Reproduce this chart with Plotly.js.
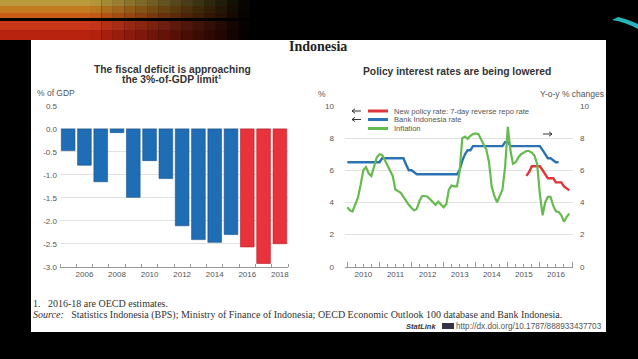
<!DOCTYPE html>
<html><head><meta charset="utf-8">
<script src="https://cdn.plot.ly/plotly-3.0.1.min.js"></script>
<style>html,body{margin:0;padding:0;background:#000;overflow:hidden}#chart{width:638px;height:359px}</style>
</head><body><div id="chart"></div>
<script>
// ---------- Left panel: fiscal balance, % of GDP ----------
const deficitYears = [2005,2006,2007,2008,2009,2010,2011,2012,2013,2014,2015,2016,2017,2018];
const deficitValues = [-0.47,-0.79,-1.15,-0.08,-1.49,-0.69,-1.08,-2.11,-2.41,-2.47,-2.30,-2.57,-2.93,-2.50];
const deficitEstimate = [false,false,false,false,false,false,false,false,false,false,false,true,true,true];
const deficitTickVals = [2006,2008,2010,2012,2014,2016,2018];
const deficitYTickVals = [0.5,0,-0.5,-1,-1.5,-2,-2.5,-3];
const deficitYTickText = ['0.5','0.0','-0.5','-1.0','-1.5','-2.0','-2.5','-3.0'];

// ---------- Right panel: policy rates and inflation (monthly) ----------
const months = [
 '2010-01-01','2010-02-01','2010-03-01','2010-04-01','2010-05-01','2010-06-01','2010-07-01','2010-08-01','2010-09-01','2010-10-01','2010-11-01','2010-12-01',
 '2011-01-01','2011-02-01','2011-03-01','2011-04-01','2011-05-01','2011-06-01','2011-07-01','2011-08-01','2011-09-01','2011-10-01','2011-11-01','2011-12-01',
 '2012-01-01','2012-02-01','2012-03-01','2012-04-01','2012-05-01','2012-06-01','2012-07-01','2012-08-01','2012-09-01','2012-10-01','2012-11-01','2012-12-01',
 '2013-01-01','2013-02-01','2013-03-01','2013-04-01','2013-05-01','2013-06-01','2013-07-01','2013-08-01','2013-09-01','2013-10-01','2013-11-01','2013-12-01',
 '2014-01-01','2014-02-01','2014-03-01','2014-04-01','2014-05-01','2014-06-01','2014-07-01','2014-08-01','2014-09-01','2014-10-01','2014-11-01','2014-12-01',
 '2015-01-01','2015-02-01','2015-03-01','2015-04-01','2015-05-01','2015-06-01','2015-07-01','2015-08-01','2015-09-01','2015-10-01','2015-11-01','2015-12-01',
 '2016-01-01','2016-02-01','2016-03-01','2016-04-01','2016-05-01','2016-06-01','2016-07-01','2016-08-01','2016-09-01','2016-10-01','2016-11-01','2016-12-01'
];
const inflation = [
 3.7,3.5,3.45,3.85,4.3,5.1,6.0,6.2,5.8,5.65,6.2,6.8,
 7.0,6.95,6.65,6.3,6.0,5.65,4.8,4.7,4.6,4.35,4.05,3.85,
 3.65,3.5,3.6,4.1,4.4,4.4,4.35,4.2,4.05,3.85,4.05,3.85,
 3.7,3.9,4.8,5.05,5.0,5.0,5.9,8.0,8.1,7.95,8.15,8.25,
 8.3,8.25,7.9,7.6,7.3,6.5,5.0,4.4,4.0,4.4,4.8,6.2,
 8.7,7.2,6.4,6.5,6.8,7.0,7.1,7.2,7.2,7.1,6.9,6.4,
 4.5,3.2,4.0,4.35,4.35,3.8,3.45,3.4,3.2,2.8,3.1,3.3
];
const biRateMonths = months.slice(0, 80);
const biRate = [
 6.5,6.5,6.5,6.5,6.5,6.5,6.5,6.5,6.5,6.5,6.5,6.5,6.5,
 6.75,6.75,6.75,6.75,6.75,6.75,6.75,6.75,6.75,
 6.35,6.0,6.0,5.85,
 5.75,5.75,5.75,5.75,5.75,5.75,5.75,5.75,5.75,5.75,5.75,5.75,5.75,5.75,5.75,5.75,
 6.0,6.6,7.0,7.25,7.25,
 7.5,7.5,7.5,7.5,7.5,7.5,7.5,7.5,7.5,7.5,7.5,7.5,
 7.75,7.75,
 7.5,7.5,7.5,7.5,7.5,7.5,7.5,7.5,7.5,7.5,7.5,7.5,
 7.25,7.0,6.75,6.75,6.6,6.5,6.5
];
const repoMonths = months.slice(67);
const repoRate = [5.65,5.9,6.25,6.25,6.25,6.25,6.0,5.75,5.5,5.5,5.5,5.25,5.25,5.25,5.0,4.9,4.75];
const rateYTickVals = [0,2,4,6,8,10];
const legendNames = ['New policy rate: 7-day reverse repo rate','Bank Indonesia rate','Inflation'];

// ---------- colours / helpers ----------
const BLUE = '#1f6db5', RED = '#e8323c';
const C_RED = '#e0353d', C_BLUE = '#2a72b3', C_GREEN = '#66bb4f';
const W = 638, H = 359;
const px = x => x / W, py = y => 1 - y / H;
const SANS = 'Liberation Sans, Arial, sans-serif';
const SERIF = 'Liberation Serif, Times New Roman, serif';

const traces = [
  {type:'bar', x: deficitYears, y: deficitValues, width: 0.84,
   marker:{color: deficitEstimate.map(e => e ? RED : BLUE),
           line:{color: deficitEstimate.map(e => e ? '#b52029' : '#15528c'), width:0.6}},
   xaxis:'x', yaxis:'y', hoverinfo:'skip'},
  {type:'scatter', mode:'lines', x: biRateMonths, y: biRate, name: legendNames[1],
   line:{color:C_BLUE, width:2.4}, xaxis:'x2', yaxis:'y2'},
  {type:'scatter', mode:'lines', x: months, y: inflation, name: legendNames[2],
   line:{color:C_GREEN, width:2.2}, xaxis:'x2', yaxis:'y3'},
  {type:'scatter', mode:'lines', x: repoMonths, y: repoRate, name: legendNames[0],
   line:{color:C_RED, width:2.4}, xaxis:'x2', yaxis:'y2'}
];

const gridC = '#e2e2e2', tickC = '#555';
const layout = {
  width: W, height: H, margin:{l:0,r:0,t:0,b:0},
  paper_bgcolor:'#000', plot_bgcolor:'rgba(0,0,0,0)', showlegend:false,
  font:{family:SANS, color:tickC, size:8},
  xaxis:{domain:[px(60),px(288)], range:[2004.5,2018.5], tickmode:'array', tickvals:deficitTickVals,
         ticks:'', showgrid:false, zeroline:false, showline:true, linecolor:'#999', linewidth:1,
         tickfont:{size:8,color:tickC}, fixedrange:true,
         minor:{tickmode:'linear', tick0:2004.5, dtick:1, ticks:'inside', ticklen:3, tickcolor:'#999', showgrid:false}},
  yaxis:{domain:[py(266.7),py(106)], range:[-3,0.5], tickmode:'array', tickvals:deficitYTickVals, ticktext:deficitYTickText,
         ticks:'', showgrid:true, gridcolor:gridC, zeroline:false, tickfont:{size:8,color:tickC}, ticklabelstandoff:2},
  xaxis2:{domain:[px(345),px(573)], anchor:'y2', type:'date', range:['2009-12-05','2017-01-12'],
          tick0:'2010-01-01', dtick:'M12', tickformat:'%Y', ticklabelmode:'period',
          ticks:'inside', ticklen:5, tickcolor:'#999', showgrid:false, zeroline:false,
          showline:true, linecolor:'#999', linewidth:1, tickfont:{size:8,color:tickC},
          minor:{dtick:'M3', ticks:'inside', ticklen:3, tickcolor:'#999', showgrid:false}},
  yaxis2:{domain:[py(266.7),py(106)], anchor:'x2', range:[0,10], tickmode:'array', tickvals:rateYTickVals,
          ticks:'', showgrid:true, gridcolor:gridC, zeroline:false, tickfont:{size:8,color:tickC}, ticklabelstandoff:10},
  yaxis3:{overlaying:'y2', anchor:'x2', side:'right', range:[0,10], tickmode:'array', tickvals:rateYTickVals,
          ticks:'', showgrid:false, zeroline:false, tickfont:{size:8,color:tickC}, ticklabelstandoff:6},
  shapes:[], annotations:[]
};

// slide decoration + white panel
const S = layout.shapes, A = layout.annotations;
const band = (y0,y1,color) => {
  const steps = 14, x0 = 90, x1 = 250;
  S.push({type:'rect', xref:'paper', yref:'paper', layer:'below',
    x0:0, x1:px(x0), y0:py(y1), y1:py(y0), fillcolor:color, opacity:1, line:{width:0}});
  for (let k = 0; k < steps; k++) {
    const a = px(x0 + (x1 - x0) * k / steps), b = px(x0 + (x1 - x0) * (k + 1) / steps);
    S.push({type:'rect', xref:'paper', yref:'paper', layer:'below',
      x0:a, x1:b, y0:py(y1), y1:py(y0), fillcolor:color, opacity:1 - (k + 0.5) / steps, line:{width:0}});
  }
};
band(0,6,'#b99a3c'); band(6,13,'#c27b20'); band(13,18,'#c85b16'); band(21,30,'#c9371b'); band(30,40,'#b8230f');
S.push({type:'path', xref:'paper', yref:'paper', layer:'below',
  path:`M ${px(612)} ${py(20)} Q ${px(625)} ${py(22)} ${px(638)} ${py(29)} L ${px(638)} ${py(24)} Q ${px(627)} ${py(19)} ${px(618)} ${py(17)} Z`,
  fillcolor:'#27b3b8', line:{width:0}});
S.push({type:'rect', xref:'paper', yref:'paper', layer:'below',
  x0:px(31), x1:px(606), y0:py(332), y1:py(40), fillcolor:'#ffffff', line:{width:0}});

// small arrows (drawn as shapes) pointing to the axis each series uses
const arrow = (xTail, xHead, y) => {
  const d = xHead < xTail ? 1 : -1;
  S.push({type:'path', xref:'paper', yref:'paper', line:{color:'#333', width:1},
    path:`M ${px(xTail)} ${py(y)} L ${px(xHead)} ${py(y)} M ${px(xHead + 3*d)} ${py(y-2.2)} L ${px(xHead)} ${py(y)} L ${px(xHead + 3*d)} ${py(y+2.2)}`});
};

// manual compact legend
const legendRows = [[111, C_RED, true],[119.5, C_BLUE, true],[128.5, C_GREEN, false]];
legendRows.forEach((r,i) => {
  S.push({type:'line', xref:'paper', yref:'paper', x0:px(368), x1:px(388), y0:py(r[0]), y1:py(r[0]),
          line:{color:r[1], width:3}});
  A.push({text:legendNames[i], xref:'paper', yref:'paper', x:px(392), y:py(r[0]), xanchor:'left', yanchor:'middle',
          showarrow:false, font:{size:7.6, color:'#555', family:SANS}});
  if (r[2]) arrow(361, 352, r[0]);
});
arrow(543, 552, 134);

// titles and labels
const ann = (text,x,y,xa,size,color,family) => A.push({text, xref:'paper', yref:'paper', x:px(x), y:py(y),
  xanchor:xa, yanchor:'middle', showarrow:false, font:{size, color, family}});
ann('<b>Indonesia</b>', 318, 46, 'center', 14, '#222', SERIF);
ann('<b>The fiscal deficit is approaching</b>', 172, 69.5, 'center', 10.3, '#333', SANS);
ann('<b>the 3%-of-GDP limit\u00b9</b>', 172, 80, 'center', 10.3, '#333', SANS);
ann('<b>Policy interest rates are being lowered</b>', 457, 71, 'center', 10.3, '#333', SANS);
ann('% of GDP', 35, 93, 'left', 8.5, '#555', SANS);
ann('%', 316, 94, 'left', 8.5, '#555', SANS);
ann('Y-o-y % changes', 606, 94, 'right', 8.5, '#555', SANS);

// footnotes
ann('1.\u00a0\u00a0 2016-18 are OECD estimates.', 31, 303, 'left', 10, '#333', SERIF);
ann('<i>Source:</i>\u00a0\u00a0 Statistics Indonesia (BPS); Ministry of Finance of Indonesia; OECD Economic Outlook 100 database and Bank Indonesia.', 31, 315, 'left', 10, '#333', SERIF);
ann('http://dx.doi.org/10.1787/888933437703', 604, 326, 'right', 8.2, '#555', SANS);
ann('<b><i>StatLink</i></b>', 438, 326, 'right', 7.5, '#333', SANS);
S.push({type:'rect', xref:'paper', yref:'paper', x0:px(442), x1:px(454), y0:py(329), y1:py(323), fillcolor:'#334', line:{width:0}});

Plotly.newPlot('chart', traces, layout, {staticPlot:true, displayModeBar:false});
</script></body></html>
